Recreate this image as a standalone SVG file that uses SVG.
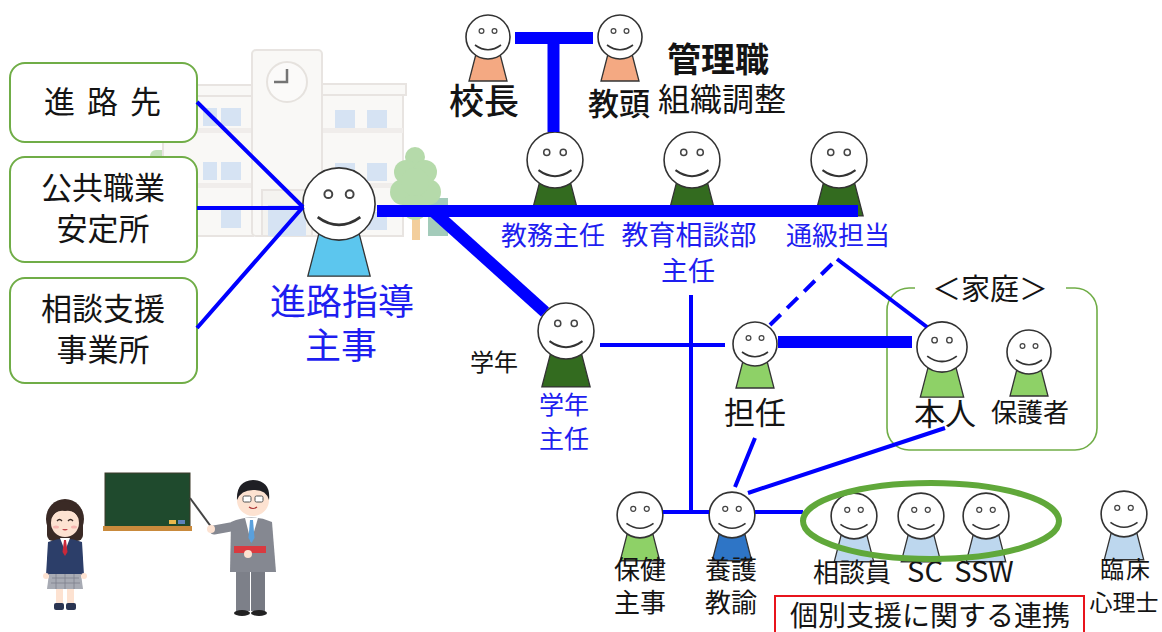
<svg xmlns="http://www.w3.org/2000/svg" xmlns:xlink="http://www.w3.org/1999/xlink" width="1162" height="632" viewBox="0 0 1162 632">
<style>
  .jp{font-family:"Noto Sans CJK JP","Noto Sans CJK SC",sans-serif}
  .blk{fill:#141414}
  .blu{fill:#1e1ef0}
  .ln{stroke:#0000ff;stroke-width:4;fill:none}
  .thick{stroke:#0000ff;stroke-width:12;fill:none}
  .box{fill:#ffffff;stroke:#70ad47;stroke-width:2}
  .bld{fill:#f8f7f5;stroke:#e4e0dc;stroke-width:2}
  .win{fill:#cfdff1}
  .salmon{fill:#f4a982}
  .dkgreen{fill:#336b1f}
  .ltgreen{fill:#8ed167}
  .skyblue{fill:#5cc6ee}
  .paleblue{fill:#bdd7ee}
  .midblue{fill:#2e75c6}
</style>
<defs>
  <!-- trapezoid body, fill comes from the using element -->
  <path id="body" d="M-12 17 L12 17 L19 44 L-19 44 Z" stroke="#333" stroke-width="1.3" vector-effect="non-scaling-stroke"/>
  <!-- smiling head -->
  <g id="face">
    <circle r="22" fill="#fff" stroke="#333" stroke-width="1.6" vector-effect="non-scaling-stroke"/>
    <circle cx="-6.5" cy="-6" r="2.4" fill="#fff" stroke="#444" stroke-width="1.2"/>
    <circle cx="6.5" cy="-6" r="2.4" fill="#fff" stroke="#444" stroke-width="1.2"/>
    <path d="M-13 8 Q0 17.5 13 8" fill="none" stroke="#333" stroke-width="1.6"/>
  </g>
</defs>

<rect width="1162" height="632" fill="#ffffff"/>

<!-- school building and trees behind the network -->
<g id="background" opacity="0.85">
  <rect x="150" y="150" width="30" height="12" rx="6" fill="#b9dcae"/>
  <rect x="158" y="85" width="97" height="11" class="bld"/>
  <rect x="163" y="96" width="90" height="140" class="bld"/>
  <rect x="163" y="128" width="90" height="5" fill="#eeebe8"/>
  <rect x="163" y="183" width="90" height="5" fill="#eeebe8"/>
  <rect x="203" y="108" width="14" height="18" class="win"/>
  <rect x="221" y="108" width="20" height="18" class="win"/>
  <rect x="203" y="162" width="14" height="18" class="win"/>
  <rect x="221" y="162" width="20" height="18" class="win"/>
  <rect x="221" y="210" width="20" height="18" class="win"/>
  <rect x="318" y="84" width="88" height="11" class="bld"/>
  <rect x="322" y="95" width="81" height="141" class="bld"/>
  <rect x="322" y="128" width="81" height="5" fill="#eeebe8"/>
  <rect x="322" y="183" width="81" height="5" fill="#eeebe8"/>
  <rect x="335" y="110" width="20" height="18" class="win"/>
  <rect x="367" y="110" width="20" height="18" class="win"/>
  <rect x="335" y="163" width="20" height="18" class="win"/>
  <rect x="367" y="163" width="20" height="18" class="win"/>
  <rect x="367" y="212" width="20" height="18" class="win"/>
  <rect x="252" y="50" width="70" height="186" rx="4" class="bld"/>
  <circle cx="287" cy="82" r="20" fill="#fbfaf9" stroke="#e2ded9" stroke-width="2"/>
  <path d="M287 69 V82 H274" fill="none" stroke="#5c5c5c" stroke-width="2.5"/>
  <rect x="262" y="190" width="50" height="46" fill="#f3f1ee" stroke="#e4e0dc" stroke-width="2"/>
  <rect x="268" y="205" width="38" height="31" class="win"/>
  <rect x="428" y="198" width="20" height="38" fill="#93c3ae"/>
  <rect x="412" y="210" width="8" height="30" fill="#f1c68b"/>
  <g fill="#a9d49c">
    <circle cx="415" cy="157" r="10"/>
    <circle cx="406" cy="172" r="12"/>
    <circle cx="425" cy="172" r="12"/>
    <circle cx="403" cy="192" r="13"/>
    <circle cx="428" cy="192" r="13"/>
    <circle cx="415" cy="207" r="13"/>
    <circle cx="415" cy="182" r="14"/>
  </g>
</g>

<!-- outside agencies -->
<g id="shinrosaki">
  <rect x="10" y="63" width="187" height="79" rx="15" class="box"/>
  <text x="44" y="113" class="jp blk" font-size="31" letter-spacing="12">進路先</text>
</g>
<g id="hellowork">
  <rect x="10" y="157" width="187" height="105" rx="15" class="box"/>
  <text x="103" y="199" class="jp blk" font-size="31" text-anchor="middle">公共職業</text>
  <text x="103" y="240" class="jp blk" font-size="31" text-anchor="middle">安定所</text>
</g>
<g id="soudanshien">
  <rect x="10" y="278" width="187" height="105" rx="15" class="box"/>
  <text x="103" y="320" class="jp blk" font-size="31" text-anchor="middle">相談支援</text>
  <text x="103" y="361" class="jp blk" font-size="31" text-anchor="middle">事業所</text>
</g>

<!-- home frame -->
<g id="katei">
  <path d="M915 288 H909 A22 22 0 0 0 887 310 V428 A22 22 0 0 0 909 450 H1075 A22 22 0 0 0 1097 428 V310 A22 22 0 0 0 1075 288 H1066" fill="none" stroke="#70ad47" stroke-width="1.6"/>
  <text x="990" y="300" class="jp blk" font-size="29" text-anchor="middle">＜家庭＞</text>
</g>

<!-- people -->
<g id="kocho" transform="translate(488,37)">
  <use xlink:href="#body" class="salmon"/><use xlink:href="#face"/>
  <text x="-39" y="77" class="jp blk" font-size="35" font-weight="500">校長</text>
</g>
<g id="kyoto" transform="translate(620,37)">
  <use xlink:href="#body" class="salmon"/><use xlink:href="#face"/>
  <text x="-32" y="78" class="jp blk" font-size="31" font-weight="500">教頭</text>
</g>
<g id="kanrishoku">
  <text x="667" y="72" class="jp blk" font-size="34" font-weight="bold">管理職</text>
  <text x="658" y="111" class="jp blk" font-size="32">組織調整</text>
</g>
<g id="shinro-shuji">
  <g transform="translate(339,204) scale(1.64)"><use xlink:href="#body" class="skyblue"/><use xlink:href="#face"/></g>
  <text x="342" y="315" class="jp blu" font-size="36" text-anchor="middle">進路指導</text>
  <text x="341" y="359" class="jp blu" font-size="36" text-anchor="middle">主事</text>
</g>
<g id="kyomu">
  <g transform="translate(555,160) scale(1.27)"><use xlink:href="#body" class="dkgreen"/><use xlink:href="#face"/></g>
  <text x="553" y="245" class="jp blu" font-size="26" text-anchor="middle">教務主任</text>
</g>
<g id="kyoiku-soudan">
  <g transform="translate(692,160) scale(1.27)"><use xlink:href="#body" class="dkgreen"/><use xlink:href="#face"/></g>
  <text x="689" y="245" class="jp blu" font-size="27" text-anchor="middle">教育相談部</text>
  <text x="688" y="281" class="jp blu" font-size="27" text-anchor="middle">主任</text>
</g>
<g id="tsukyu">
  <g transform="translate(839,160) scale(1.27)"><use xlink:href="#body" class="dkgreen"/><use xlink:href="#face"/></g>
  <text x="838" y="245" class="jp blu" font-size="26" text-anchor="middle">通級担当</text>
</g>
<g id="gakunen">
  <g transform="translate(566,331) scale(1.27)"><use xlink:href="#body" class="dkgreen"/><use xlink:href="#face"/></g>
  <text x="494" y="371" class="jp blk" font-size="24" text-anchor="middle">学年</text>
  <text x="564" y="414" class="jp blu" font-size="25" text-anchor="middle">学年</text>
  <text x="564" y="448" class="jp blu" font-size="25" text-anchor="middle">主任</text>
</g>
<g id="tannin">
  <g transform="translate(755,344)"><use xlink:href="#body" class="ltgreen"/><use xlink:href="#face"/></g>
  <text x="755" y="424" class="jp blk" font-size="31" text-anchor="middle">担任</text>
</g>
<g id="honnin">
  <g transform="translate(942,347) scale(1.14)"><use xlink:href="#body" class="ltgreen"/><use xlink:href="#face"/></g>
  <text x="945" y="425" class="jp blk" font-size="31" text-anchor="middle">本人</text>
</g>
<g id="hogosha">
  <g transform="translate(1029,352)"><use xlink:href="#body" class="ltgreen"/><use xlink:href="#face"/></g>
  <text x="1030" y="422" class="jp blk" font-size="26" text-anchor="middle">保護者</text>
</g>
<g id="hoken-shuji">
  <g transform="translate(640,515) scale(1.04)"><use xlink:href="#body" class="ltgreen"/><use xlink:href="#face"/></g>
  <text x="640" y="579" class="jp blk" font-size="26" text-anchor="middle">保健</text>
  <text x="640" y="612" class="jp blk" font-size="26" text-anchor="middle">主事</text>
</g>
<g id="yogo-kyoyu">
  <g transform="translate(732,515) scale(1.04)"><use xlink:href="#body" class="midblue"/><use xlink:href="#face"/></g>
  <text x="731" y="579" class="jp blk" font-size="26" text-anchor="middle">養護</text>
  <text x="731" y="612" class="jp blk" font-size="26" text-anchor="middle">教諭</text>
</g>
<g id="soudanin">
  <g transform="translate(854,516) scale(1.04)"><use xlink:href="#body" class="paleblue"/><use xlink:href="#face"/></g>
  <text x="852" y="582" class="jp blk" font-size="26" text-anchor="middle">相談員</text>
</g>
<g id="sc">
  <g transform="translate(921,516) scale(1.04)"><use xlink:href="#body" class="paleblue"/><use xlink:href="#face"/></g>
  <text x="925" y="582" class="jp blk" font-size="29" text-anchor="middle">SC</text>
</g>
<g id="ssw">
  <g transform="translate(986,516) scale(1.04)"><use xlink:href="#body" class="paleblue"/><use xlink:href="#face"/></g>
  <text x="984" y="582" class="jp blk" font-size="29" text-anchor="middle">SSW</text>
</g>
<g id="rinsho">
  <g transform="translate(1124,514) scale(1.04)"><use xlink:href="#body" class="paleblue"/><use xlink:href="#face"/></g>
  <text x="1126" y="578" class="jp blk" font-size="24" text-anchor="middle" letter-spacing="2">臨床</text>
  <text x="1124" y="611" class="jp blk" font-size="23" text-anchor="middle">心理士</text>
</g>

<!-- connectors -->
<g id="connectors">
  <path class="thick" stroke-width="11" d="M515 38 H593 M553.5 38 V132"/>
  <path class="thick" d="M377 211 H858"/>
  <path class="thick" d="M433 211 L545 312"/>
  <path class="ln" d="M197 102 L303 207 M197 208 H303 M197 328 L303 207"/>
  <path class="ln" d="M600 345 H725 M691 295 V512 M663 512 H709 M755 512 H803"/>
  <path class="thick" d="M778 342 H912"/>
  <path class="ln" stroke-dasharray="15 9" d="M770 325 L836 260"/>
  <path class="ln" d="M837 259 L927 327"/>
  <path class="ln" d="M755 438 L735 487 M945 428 L748 493"/>
</g>

<!-- outside-support circle -->
<g id="renkei">
  <ellipse cx="931" cy="521" rx="128" ry="38" fill="none" stroke="#60a83a" stroke-width="6"/>
  <rect x="775" y="596" width="309" height="50" fill="#fff" stroke="#e8141c" stroke-width="2"/>
  <text x="930" y="626" class="jp blk" font-size="28" text-anchor="middle">個別支援に関する連携</text>
</g>

<!-- classroom illustration -->
<g id="classroom">
  <rect x="105" y="473" width="85" height="54" fill="#1f4a2d" stroke="#3d3a2a" stroke-width="1"/>
  <rect x="103" y="526" width="89" height="5" fill="#c98a3c"/>
  <rect x="169" y="520" width="7" height="4" fill="#e9b84c"/>
  <rect x="178" y="520" width="7" height="4" fill="#5d82bb"/>
  <path d="M190 498 L212 528" stroke="#444" stroke-width="2"/>

  <!-- student -->
  <ellipse cx="65" cy="519" rx="19" ry="20" fill="#3a2a25"/>
  <rect x="47" y="517" width="36" height="24" rx="6" fill="#3a2a25"/>
  <ellipse cx="65" cy="523" rx="14" ry="14" fill="#fde2d1"/>
  <path d="M50 519 Q52 502 65 501 Q78 502 80 519 Q74 509 65 511 Q56 509 50 519 Z" fill="#3a2a25"/>
  <path d="M57 521 q2.5 -3 5 0 M68 521 q2.5 -3 5 0" fill="none" stroke="#3a2a25" stroke-width="1.3"/>
  <path d="M62 529 q3 3 6 0" fill="#c0434a"/>
  <ellipse cx="56" cy="527" rx="3" ry="1.6" fill="#f7b5b0"/>
  <ellipse cx="74" cy="527" rx="3" ry="1.6" fill="#f7b5b0"/>
  <path d="M48 542 Q65 535 82 542 L84 575 L46 575 Z" fill="#2c3e69"/>
  <path d="M60 538 L65 551 L70 538 Z" fill="#ffffff"/>
  <path d="M64 540 H66 L67.5 552 L65 556 L62.5 552 Z" fill="#c8283a"/>
  <path d="M49 574 H81 L83 589 H47 Z" fill="#a8abb4"/>
  <path d="M52 578 H79 M51 583 H80 M56 574 V589 M65 574 V589 M74 574 V589" stroke="#7e828d" stroke-width="0.8"/>
  <circle cx="46" cy="576" r="3" fill="#fde2d1"/>
  <circle cx="84" cy="576" r="3" fill="#fde2d1"/>
  <rect x="56" y="589" width="7" height="15" fill="#fde2d1"/>
  <rect x="67" y="589" width="7" height="15" fill="#fde2d1"/>
  <rect x="54" y="603" width="10" height="7" rx="2" fill="#2b3552"/>
  <rect x="66" y="603" width="10" height="7" rx="2" fill="#2b3552"/>

  <!-- teacher -->
  <rect x="236" y="566" width="14" height="45" fill="#7d8089"/>
  <rect x="251" y="566" width="14" height="45" fill="#777a83"/>
  <ellipse cx="242" cy="613" rx="8" ry="3" fill="#222"/>
  <ellipse cx="259" cy="613" rx="8" ry="3" fill="#222"/>
  <path d="M231 522 Q251 513 272 522 L276 572 L230 572 Z" fill="#858891"/>
  <path d="M245 518 L251 542 L258 518 Z" fill="#ffffff"/>
  <path d="M250 520 H253 L254.5 538 L251.5 543 L248.5 538 Z" fill="#5aa0dc"/>
  <path d="M236 526 L214 530" stroke="#858891" stroke-width="9" stroke-linecap="round"/>
  <circle cx="211" cy="529" r="4" fill="#fde2d1"/>
  <rect x="234" y="546" width="32" height="7" fill="#d93a40"/>
  <circle cx="248" cy="554" r="4" fill="#fde2d1"/>
  <circle cx="253" cy="500" r="16" fill="#fde2d1"/>
  <path d="M237 500 Q236 481 253 480 Q271 481 269 500 Q266 489 253 490 Q241 490 237 500 Z" fill="#1f1f24"/>
  <rect x="243" y="496" width="8" height="6" rx="1.5" fill="#fff" stroke="#555" stroke-width="1"/>
  <rect x="255" y="496" width="8" height="6" rx="1.5" fill="#fff" stroke="#555" stroke-width="1"/>
  <path d="M249 507 q4 3 8 0" fill="none" stroke="#a33" stroke-width="1.2"/>
</g>
</svg>
